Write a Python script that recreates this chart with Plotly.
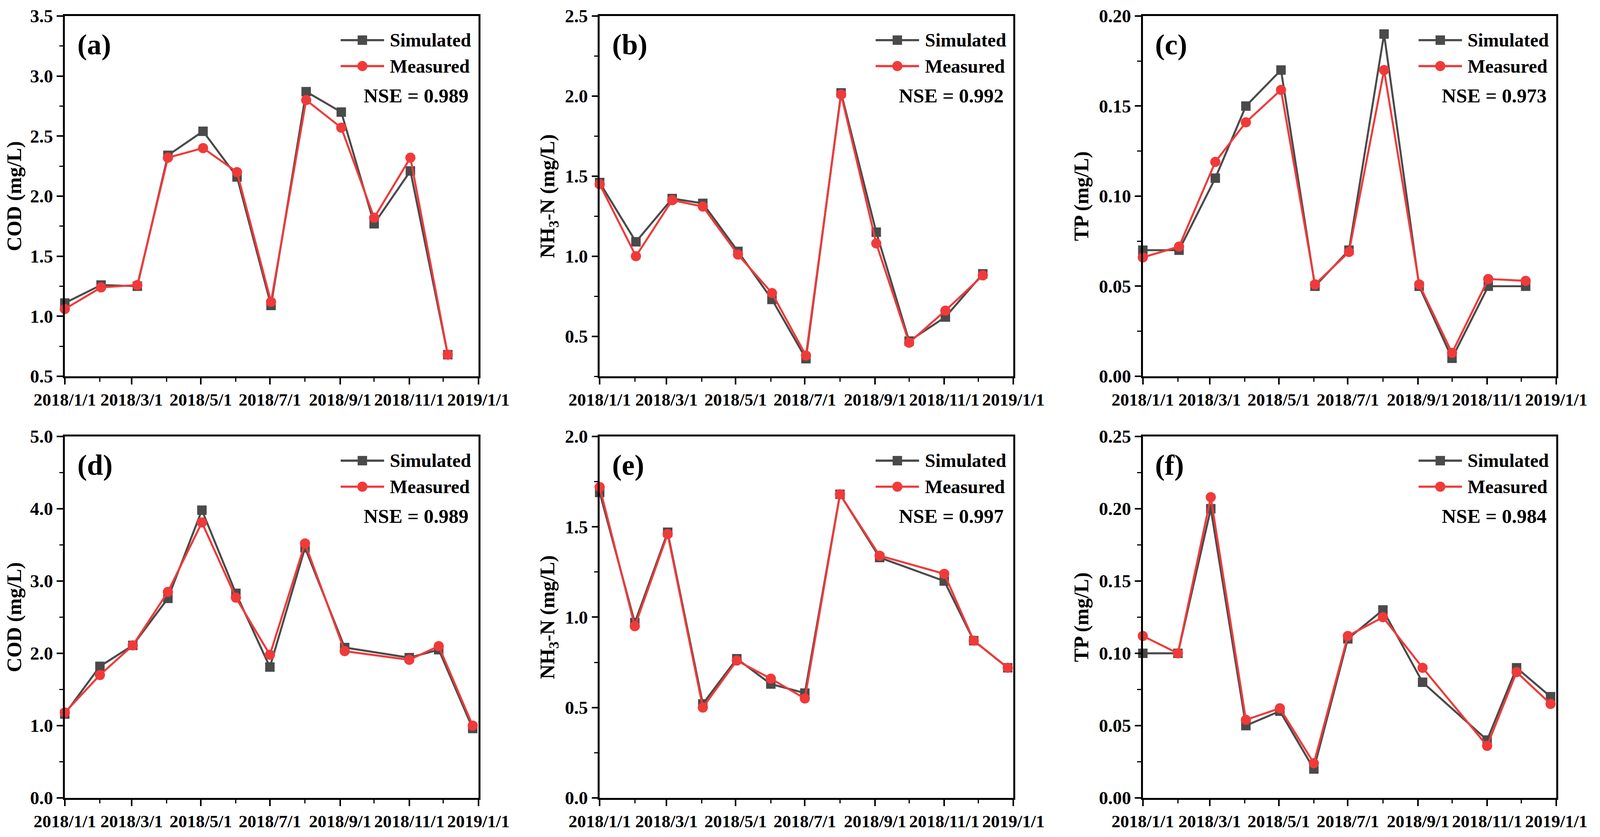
import plotly.graph_objects as go
from plotly.subplots import make_subplots

# sampling dates (top row: 2018 set 1, bottom row: 2018 set 2)
dates_top = ["2018-01-01", "2018-02-02", "2018-03-06", "2018-04-02", "2018-05-03", "2018-06-02",
             "2018-07-02", "2018-08-02", "2018-09-02", "2018-10-01", "2018-11-02", "2018-12-05"]
dates_bot = ["2018-01-01", "2018-02-01", "2018-03-02", "2018-04-02", "2018-05-02", "2018-06-01",
             "2018-07-01", "2018-08-01", "2018-09-05", "2018-11-01", "2018-11-27", "2018-12-27"]

cod_sim_a = [1.11, 1.26, 1.25, 2.34, 2.54, 2.16, 1.09, 2.87, 2.70, 1.77, 2.21, 0.68]
cod_meas_a = [1.06, 1.24, 1.26, 2.32, 2.40, 2.20, 1.12, 2.80, 2.57, 1.82, 2.32, 0.68]
nh3_sim_b = [1.46, 1.09, 1.36, 1.33, 1.03, 0.73, 0.36, 2.02, 1.15, 0.47, 0.62, 0.89]
nh3_meas_b = [1.45, 1.00, 1.35, 1.31, 1.01, 0.77, 0.38, 2.01, 1.08, 0.46, 0.66, 0.88]
tp_sim_c = [0.070, 0.070, 0.110, 0.150, 0.170, 0.050, 0.070, 0.190, 0.050, 0.010, 0.050, 0.050]
tp_meas_c = [0.066, 0.072, 0.119, 0.141, 0.159, 0.051, 0.069, 0.170, 0.051, 0.013, 0.054, 0.053]

cod_sim_d = [1.16, 1.82, 2.11, 2.76, 3.98, 2.83, 1.81, 3.46, 2.08, 1.94, 2.05, 0.96]
cod_meas_d = [1.18, 1.70, 2.11, 2.85, 3.81, 2.77, 1.98, 3.52, 2.03, 1.91, 2.10, 1.00]
nh3_sim_e = [1.69, 0.97, 1.47, 0.52, 0.77, 0.63, 0.58, 1.68, 1.33, 1.20, 0.87, 0.72]
nh3_meas_e = [1.72, 0.95, 1.46, 0.50, 0.76, 0.66, 0.55, 1.68, 1.34, 1.24, 0.87, 0.72]
tp_sim_f = [0.100, 0.100, 0.200, 0.050, 0.060, 0.020, 0.110, 0.130, 0.080, 0.040, 0.090, 0.070]
tp_meas_f = [0.112, 0.100, 0.208, 0.054, 0.062, 0.024, 0.112, 0.125, 0.090, 0.036, 0.087, 0.065]

nse_labels = ["0.989", "0.992", "0.973", "0.989", "0.997", "0.984"]
panel_tags = ["(a)", "(b)", "(c)", "(d)", "(e)", "(f)"]
y_titles = ["COD (mg/L)", "NH<sub>3</sub>-N (mg/L)", "TP (mg/L)",
            "COD (mg/L)", "NH<sub>3</sub>-N (mg/L)", "TP (mg/L)"]

panels = [
    (dates_top, cod_sim_a, cod_meas_a, [0.5, 3.5], 0.5, ".1f"),
    (dates_top, nh3_sim_b, nh3_meas_b, [0.25, 2.5], 0.5, ".1f"),
    (dates_top, tp_sim_c, tp_meas_c, [0.0, 0.2], 0.05, ".2f"),
    (dates_bot, cod_sim_d, cod_meas_d, [0.0, 5.0], 1.0, ".1f"),
    (dates_bot, nh3_sim_e, nh3_meas_e, [0.0, 2.0], 0.5, ".1f"),
    (dates_bot, tp_sim_f, tp_meas_f, [0.0, 0.25], 0.05, ".2f"),
]

FONT = "Liberation Serif"
GRAY = "#4a4a4a"
RED = "#f03a3a"
# the page shows slightly zoomed, so pixel sizes are scaled down and the figure fills the viewport
K = 0.93
x_domains = [[0.0387, 0.2982], [0.3743, 0.6339], [0.7151, 0.9745]]
y_domains = [[0.5508, 0.9845], [0.0433, 0.4784]]


def fnt(size):
    return dict(family=FONT, size=round(size * K), color="black", weight="bold")


fig = make_subplots(rows=2, cols=3)
shapes = []
annotations = []

for i, (dates, sim, meas, yrange, dtick, fmt) in enumerate(panels):
    row, col = i // 3 + 1, i % 3 + 1
    fig.add_trace(go.Scatter(x=dates, y=sim, mode="lines+markers", name="Simulated",
                             line=dict(color=GRAY, width=5.5 * K),
                             marker=dict(symbol="square", size=26 * K, color=GRAY),
                             cliponaxis=False, showlegend=False), row=row, col=col)
    fig.add_trace(go.Scatter(x=dates, y=meas, mode="lines+markers", name="Measured",
                             line=dict(color=RED, width=5.5 * K),
                             marker=dict(symbol="circle", size=28 * K, color=RED),
                             cliponaxis=False, showlegend=False), row=row, col=col)

    n = "" if i == 0 else str(i + 1)
    fig.update_layout(**{
        f"xaxis{n}": dict(
            domain=x_domains[col - 1], type="date", range=["2018-01-01", "2019-01-01"],
            tick0="2018-01-01", dtick="M2", tickformat="%Y/%-m/%-d", tickangle=0,
            ticks="outside", ticklen=17 * K, tickwidth=4 * K, tickcolor="black",
            showline=True, linewidth=5 * K, linecolor="black", mirror=True,
            showgrid=False, zeroline=False, automargin=False,
            minor=dict(dtick="M1", ticks="outside", ticklen=10 * K, tickwidth=3 * K,
                       tickcolor="black", showgrid=False),
            tickfont=fnt(48),
        ),
        f"yaxis{n}": dict(
            domain=y_domains[row - 1], range=yrange, dtick=dtick, tick0=0, tickformat=fmt,
            ticks="outside", ticklen=17 * K, tickwidth=4 * K, tickcolor="black",
            showline=True, linewidth=5 * K, linecolor="black", mirror=True,
            showgrid=False, zeroline=False, automargin=False,
            minor=dict(dtick=dtick / 2, ticks="outside", ticklen=10 * K, tickwidth=3 * K,
                       tickcolor="black", showgrid=False),
            tickfont=fnt(51),
            title=dict(text=y_titles[i], standoff=12 * K, font=fnt(56)),
        ),
    })

    xr, yr = f"x{n} domain", f"y{n} domain"
    # legend glyphs drawn inside each panel
    for yy, color, kind, half in [(0.933, GRAY, "rect", 13), (0.861, RED, "circle", 14)]:
        shapes.append(dict(type="line", xref=xr, yref=yr, x0=0.667, x1=0.772, y0=yy, y1=yy,
                           line=dict(color=color, width=6 * K)))
        shapes.append(dict(type=kind, xref=xr, yref=yr, xsizemode="pixel", ysizemode="pixel",
                           xanchor=0.7195, yanchor=yy, x0=-half * K, x1=half * K,
                           y0=-half * K, y1=half * K,
                           fillcolor=color, line=dict(width=0)))
    for yy, txt in [(0.933, "Simulated"), (0.861, "Measured")]:
        annotations.append(dict(xref=xr, yref=yr, x=0.784, y=yy, text=txt, showarrow=False,
                                xanchor="left", yanchor="middle", font=fnt(52)))
    annotations.append(dict(xref=xr, yref=yr, x=0.979, y=0.779, text=f"NSE = {nse_labels[i]}",
                            showarrow=False, xanchor="right", yanchor="middle", font=fnt(55)))
    annotations.append(dict(xref=xr, yref=yr, x=0.028, y=0.921, text=panel_tags[i],
                            showarrow=False, xanchor="left", yanchor="middle", font=fnt(80)))

fig.update_layout(autosize=True,
                  margin=dict(l=0, r=0, t=0, b=0),
                  paper_bgcolor="white", plot_bgcolor="white",
                  font=dict(family=FONT, color="black"),
                  shapes=shapes, annotations=annotations)

fig.write_html("out.html", default_width="calc(100vw - 16px)",
               default_height="calc(100vh - 16px)")
